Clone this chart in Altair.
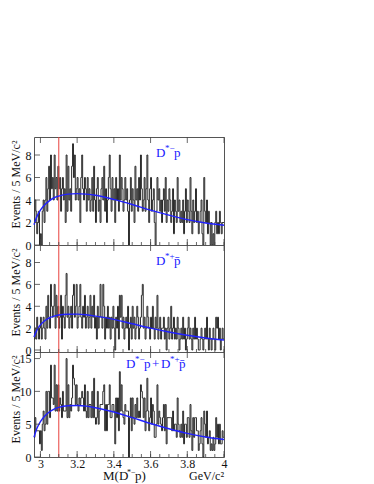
import altair as alt
import pandas as pd

# ---------------- data ----------------
X0 = 2.965          # lower edge of first bin (GeV/c^2)
BIN = 0.005         # 5 MeV bins
X_MIN, X_MAX = 2.965, 4.0

# D*- p  (top panel) counts per 5 MeV bin
top_counts = [
    2, 4, 3, 1, 2, 3, 0, 1, 0, 3, 4, 2, 4, 6, 3, 5, 7, 4, 8, 5,
    6, 4, 8, 5, 6, 4, 7, 5, 6, 3, 5, 6, 4, 5, 2, 8, 3, 7, 4, 5,
    3, 7, 9, 6, 8, 4, 5, 6, 4, 5, 2, 6, 8, 5, 4, 6, 5, 3, 6, 4,
    5, 3, 4, 6, 3, 7, 4, 2, 5, 6, 3, 4, 2, 5, 6, 4, 7, 3, 5, 2,
    4, 6, 8, 5, 3, 6, 4, 5, 2, 6, 4, 5, 3, 8, 4, 6, 5, 3, 4, 6,
    4, 5, 3, 0, 4, 6, 3, 5, 4, 2, 7, 4, 5, 3, 6, 4, 8, 5, 3, 4,
    6, 3, 5, 8, 4, 2, 5, 6, 3, 4, 5, 2, 0, 3, 6, 4, 5, 3, 4, 2,
    4, 5, 3, 6, 2, 4, 3, 5, 4, 2, 3, 5, 1, 4, 3, 2, 6, 3, 4, 2,
    3, 2, 4, 1, 3, 5, 2, 4, 3, 2, 6, 3, 1, 4, 2, 3, 5, 2, 3, 1,
    2, 3, 4, 1, 0, 6, 3, 2, 4, 1, 3, 2, 0, 2, 0, 1, 0, 2, 3, 1,
    2, 1, 3, 2, 1, 2, 2,
]

# D*+ pbar (middle panel) counts per 5 MeV bin
mid_counts = [
    1, 2, 1, 3, 2, 1, 2, 3, 1, 2, 3, 2, 1, 4, 2, 5, 3, 2, 6, 4,
    3, 4, 6, 2, 5, 3, 4, 2, 3, 5, 1, 4, 3, 2, 5, 7, 3, 4, 2, 3,
    4, 2, 5, 6, 3, 4, 6, 2, 3, 4, 6, 3, 2, 4, 3, 5, 2, 3, 4, 2,
    3, 5, 2, 4, 3, 5, 2, 3, 1, 4, 2, 3, 6, 3, 2, 6, 4, 1, 3, 2,
    4, 2, 3, 1, 3, 2, 4, 2, 0, 3, 2, 4, 1, 5, 3, 5, 2, 3, 1, 2,
    3, 2, 4, 0, 2, 3, 1, 4, 2, 3, 1, 2, 4, 3, 1, 2, 3, 5, 6, 2,
    3, 1, 2, 4, 3, 2, 1, 3, 2, 4, 2, 1, 3, 2, 5, 1, 2, 3, 1, 2,
    2, 3, 1, 2, 0, 2, 3, 1, 2, 4, 1, 2, 3, 1, 2, 1, 3, 2, 0, 1,
    2, 1, 3, 1, 2, 0, 1, 2, 3, 1, 2, 1, 0, 2, 1, 3, 1, 2, 1, 0,
    0, 1, 2, 1, 0, 1, 2, 1, 3, 1, 0, 2, 1, 0, 1, 2, 1, 0, 3, 2,
    3, 1, 2, 0, 1, 2, 1,
]

# combined panel = sum of the two charge combinations
sum_counts = [a + b for a, b in zip(top_counts, mid_counts)]

# fitted background curves
fit_x = [2.965, 2.98, 3.0, 3.025, 3.05, 3.075, 3.1, 3.15, 3.2, 3.25,
         3.3, 3.4, 3.5, 3.6, 3.7, 3.8, 3.9, 4.0]
fit_top = [1.8, 2.5, 3.1, 3.6, 3.95, 4.2, 4.35, 4.52, 4.57, 4.52,
           4.42, 4.05, 3.6, 3.1, 2.65, 2.25, 1.95, 1.75]
fit_mid = [1.2, 1.8, 2.3, 2.7, 2.95, 3.1, 3.2, 3.27, 3.28, 3.22,
           3.1, 2.8, 2.4, 2.0, 1.65, 1.35, 1.1, 0.92]
fit_sum = [3.0, 4.3, 5.4, 6.3, 6.9, 7.3, 7.55, 7.8, 7.85, 7.75,
           7.5, 6.85, 6.0, 5.1, 4.3, 3.6, 3.05, 2.67]

marker_x = [3.1]
x_major = [3.0, 3.2, 3.4, 3.6, 3.8, 4.0]
x_minor = [3.0 + 0.05 * i for i in range(21)]
y_ticks_small = [0, 2, 4, 6, 8]
y_ticks_big = [0, 5, 10, 15]

# ---------------- style ----------------
W = 190
SERIF = "Liberation Serif"
BLUE = "#2020ff"
RED = "#e8413c"
HIST = "#2a2a2a"


def hist_df(counts):
    xs = [round(X0 + BIN * i, 4) for i in range(len(counts) + 1)]
    ys = list(counts) + [counts[-1]]
    return pd.DataFrame({"x": xs, "y": ys})


def text_layer(txt, x, y, size, color=BLUE, align="left"):
    return alt.Chart(pd.DataFrame({"t": [txt]})).mark_text(
        font=SERIF, fontSize=size, color=color, align=align, baseline="alphabetic"
    ).encode(text="t:N", x=alt.value(x), y=alt.value(y))


def panel(counts, fit_y, ymin, ymax, yticks, H, labels, bottom=False):
    xs = alt.Scale(domain=[X_MIN, X_MAX], nice=False, zero=False)
    ys = alt.Scale(domain=[ymin, ymax], nice=False, zero=False)
    xaxis = alt.Axis(values=x_major, format=".1~f", ticks=False, domain=False,
                     grid=False, title=None, labels=bottom,
                     labelFont=SERIF, labelFontSize=12,
                     labelPadding=1, labelColor="#111", labelFlush=False,
                     labelOverlap=False)
    yaxis = alt.Axis(values=yticks, format="d", ticks=False, domain=False, grid=False,
                     title="Events / 5 MeV/c²", titleFont=SERIF, titleFontSize=12,
                     titleFontWeight="normal", titleColor="#111",
                     titleAngle=270, titleAlign="right", titleBaseline="middle",
                     titleX=-19, titleY=3,
                     labelFont=SERIF, labelFontSize=12, labelPadding=3,
                     labelColor="#111", labelOverlap=False, labelFlush=False)

    X = lambda: alt.X("x:Q", scale=xs, axis=xaxis)
    Y = lambda: alt.Y("y:Q", scale=ys, axis=yaxis)

    hist = alt.Chart(hist_df(counts)).mark_line(
        interpolate="step-after", color=HIST, strokeWidth=1.0
    ).encode(x=X(), y=Y())

    red = alt.Chart(pd.DataFrame({"x": marker_x})).mark_rule(
        color=RED, strokeWidth=1
    ).encode(x=X())

    fit = alt.Chart(pd.DataFrame({"x": fit_x, "y": fit_y})).mark_line(
        interpolate="monotone", color=BLUE, strokeWidth=1.4
    ).encode(x=X(), y=Y())

    tmaj = alt.Chart(pd.DataFrame({"x": x_major})).mark_rule(
        color="#444", strokeWidth=0.8
    ).encode(x=X(), y=alt.value(H), y2=alt.value(H - 6))
    tmin = alt.Chart(pd.DataFrame({"x": x_minor})).mark_rule(
        color="#444", strokeWidth=0.8
    ).encode(x=X(), y=alt.value(H), y2=alt.value(H - 3))
    tmaj_top = alt.Chart(pd.DataFrame({"x": x_major})).mark_rule(
        color="#444", strokeWidth=0.8
    ).encode(x=X(), y=alt.value(0), y2=alt.value(6))
    ytk = alt.Chart(pd.DataFrame({"y": yticks})).mark_rule(
        color="#444", strokeWidth=0.8
    ).encode(y=Y(), x=alt.value(0), x2=alt.value(6))

    layers = [hist, red, fit, tmaj, tmin, tmaj_top, ytk]
    for (t, x, y, s, c, a) in labels:
        layers.append(text_layer(t, x, y, s, c, a))
    return alt.layer(*layers).properties(width=W, height=H)


lab_top = [
    ("D", W - 68, 20, 13, BLUE, "left"),
    ("*−", W - 59, 14, 9, BLUE, "left"),
    ("p", W - 50, 20, 13, BLUE, "left"),
]
lab_mid = [
    ("D", W - 68, 20, 13, BLUE, "left"),
    ("*+", W - 59, 14, 9, BLUE, "left"),
    ("p̄", W - 50, 20, 13, BLUE, "left"),
]
lab_bot = [
    ("D", W - 98, 16, 13, BLUE, "left"),
    ("*−", W - 89, 10, 9, BLUE, "left"),
    ("p", W - 80, 16, 13, BLUE, "left"),
    ("+", W - 72, 16, 13, BLUE, "left"),
    ("D", W - 63, 16, 13, BLUE, "left"),
    ("*+", W - 54, 10, 9, BLUE, "left"),
    ("p̄", W - 45, 16, 13, BLUE, "left"),
    ("M(D", W - 121, 105 + 23, 13, "#111", "left"),
    ("*−", W - 97, 105 + 18, 8, "#111", "left"),
    ("p)", W - 89, 105 + 23, 13, "#111", "left"),
    ("GeV/c²", W, 105 + 23, 12, "#111", "right"),
]

p1 = panel(top_counts, fit_top, 0, 9.6, y_ticks_small, 108, lab_top)
p2 = panel(mid_counts, fit_mid, -0.18, 9.6, y_ticks_small, 107, lab_mid)
p3 = panel(sum_counts, fit_sum, 0, 16, y_ticks_big, 105, lab_bot, bottom=True)

chart = alt.vconcat(p1, p2, p3, spacing=0, bounds="flush").properties(
    padding={"left": 0, "top": 128, "right": 5, "bottom": 0},
    background="white",
).configure_view(stroke="#555", strokeWidth=1).configure_axis(labelOverlap=False)

chart.save("out.html", embed_options={"renderer": "svg", "actions": False})
